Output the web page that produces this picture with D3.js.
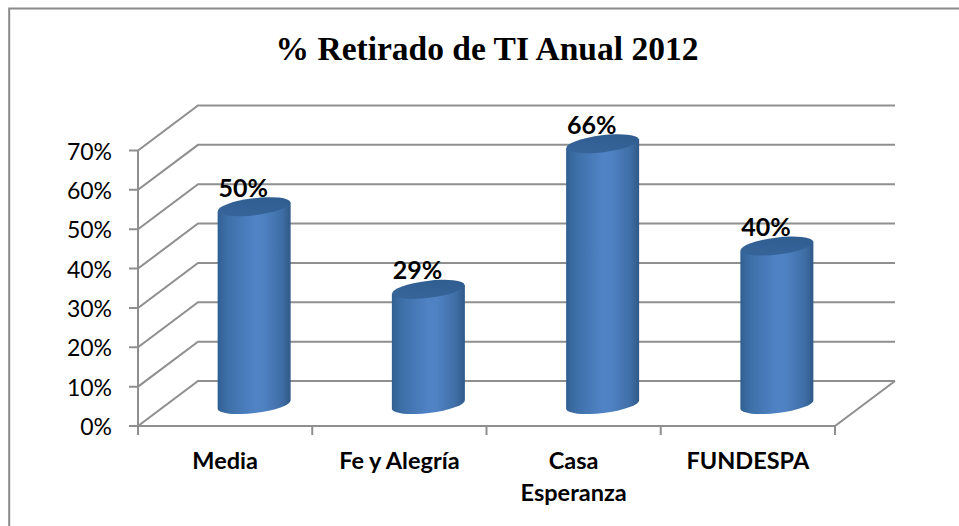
<!doctype html>
<html lang="es">
<head>
  <meta charset="utf-8">
  <title>% Retirado de TI Anual 2012</title>
  <style type="text/css">
    html, body{margin:0;padding:0;background:#fff;}
    svg{display:block;}
    text{font-family:Lato, "Open Sans", sans-serif;fill:#000;}
    .title{font-family:"Liberation Serif", serif;font-weight:bold;font-size:33.5px;}
    .tick-label{font-size:23px;}
    .cat-label{font-size:23.5px;font-weight:bold;}
    .value-label{font-size:25px;font-weight:bold;}
    .grid{fill:none;stroke:#8f8f8f;stroke-width:2;}
  </style>
</head>
<body>
  <div id="vis"></div>
  <script src="https://cdnjs.cloudflare.com/ajax/libs/d3/7.8.5/d3.min.js"></script>
  <script type="text/javascript">

    var width = 959,
      height = 526;

    var categories = ['Media', 'Fe y Alegría', 'Casa Esperanza', 'FUNDESPA'],
      values = [50, 29, 66, 40],
      ticks = [0, 10, 20, 30, 40, 50, 60, 70],
      chartTitle = '% Retirado de TI Anual 2012';

    // front plane of the fake 3d box, the back wall is the same thing shifted
    var depthX = 60, depthY = -45;

    var x = d3.scaleBand().domain(categories).range([138, 835]);
    var y = d3.scaleLinear().domain([0, 70]).range([426, 150.5]);

    var svg = d3.select('#vis').append('svg')
      .attr('width', width)
      .attr('height', height);

    var defs = svg.append('defs');

    var sideGrad = defs.append('linearGradient').attr('id', 'side');
    [[0, '#315f92'], [0.12, '#3c6ea6'], [0.5, '#5083c6'], [0.62, '#4f82c3'], [0.88, '#3f6ea6'], [1, '#2f5987']]
      .forEach(function(s){
        sideGrad.append('stop').attr('offset', s[0]).attr('stop-color', s[1]);
      });

    var capGrad = defs.append('linearGradient').attr('id', 'cap')
      .attr('x1', 0).attr('x2', 1).attr('y1', 1).attr('y2', 0);
    capGrad.append('stop').attr('offset', 0).attr('stop-color', '#38669c');
    capGrad.append('stop').attr('offset', 1).attr('stop-color', '#2f5c8e');

    // chart frame, only top and left are inside the picture
    svg.append('path')
      .attr('d', 'M9.2,526V8.5H959')
      .attr('fill', 'none')
      .attr('stroke', '#8a8a8a')
      .attr('stroke-width', 2);

    svg.append('text')
      .attr('class', 'title')
      .attr('x', 487)
      .attr('y', 60)
      .attr('text-anchor', 'middle')
      .text(chartTitle);

    // gridlines: slanted side wall + back wall
    var grid = svg.append('g');
    ticks.forEach(function(t){
      var px = x.range()[0], py = y(t);
      grid.append('path')
        .attr('class', 'grid')
        .attr('d', 'M' + (px - 9) + ',' + py + 'H' + px
          + 'L' + (px + depthX) + ',' + (py + depthY)
          + 'H' + (x.range()[1] + depthX));
      svg.append('text')
        .attr('class', 'tick-label')
        .attr('x', 112)
        .attr('y', py + 9)
        .attr('text-anchor', 'end')
        .text(t + '%');
    });

    // vertical axis
    grid.append('path').attr('class', 'grid')
      .attr('d', 'M' + x.range()[0] + ',' + y(70) + 'V' + y(0));

    // floor outline and category ticks
    grid.append('path').attr('class', 'grid')
      .attr('d', 'M' + x.range()[0] + ',' + y(0) + 'H' + x.range()[1]
        + 'L' + (x.range()[1] + depthX) + ',' + (y(0) + depthY));

    categories.forEach(function(c){
      grid.append('path').attr('class', 'grid')
        .attr('d', 'M' + x(c) + ',' + y(0) + 'v9');
    });
    grid.append('path').attr('class', 'grid')
      .attr('d', 'M' + x.range()[1] + ',' + y(0) + 'v9');

    // cylinders
    var rx = 36.5, ry = 8.5, tilt = -7;

    function cylX(c){ return x(c) + x.bandwidth() / 2 + depthX / 2 - 1; }
    function cylY(v){ return y(v) + depthY / 2; }

    var dy = rx * Math.sin(tilt * Math.PI / 180);

    var bars = svg.selectAll('.bar')
      .data(categories)
      .enter().append('g')
      .attr('class', 'bar');

    bars.append('path')
      .attr('fill', 'url(#side)')
      .attr('d', function(c, i){
        var cx = cylX(c), top = cylY(values[i]), bot = cylY(0) + 1;
        return 'M' + (cx - rx) + ',' + (top - dy)
          + 'L' + (cx - rx) + ',' + (bot - dy)
          + 'A' + rx + ',' + ry + ',' + tilt + ',0,0,' + (cx + rx) + ',' + (bot + dy)
          + 'L' + (cx + rx) + ',' + (top + dy)
          + 'Z';
      });

    bars.append('ellipse')
      .attr('fill', 'url(#cap)')
      .attr('rx', rx)
      .attr('ry', ry)
      .attr('transform', function(c, i){
        return 'translate(' + cylX(c) + ',' + cylY(values[i]) + ') rotate(' + tilt + ')';
      });

    bars.append('text')
      .attr('class', 'value-label')
      .attr('x', function(c){ return cylX(c) - 11; })
      .attr('y', function(c, i){ return cylY(values[i]) - 10; })
      .attr('text-anchor', 'middle')
      .text(function(c, i){ return values[i] + '%'; });

    // category labels, long ones wrap on two lines
    categories.forEach(function(c){
      var lines = c === 'Casa Esperanza' ? c.split(' ') : [c];
      lines.forEach(function(line, i){
        svg.append('text')
          .attr('class', 'cat-label')
          .attr('x', x(c) + x.bandwidth() / 2)
          .attr('y', 468.5 + i * 32)
          .attr('text-anchor', 'middle')
          .text(line);
      });
    });

  </script>
</body>
</html>
